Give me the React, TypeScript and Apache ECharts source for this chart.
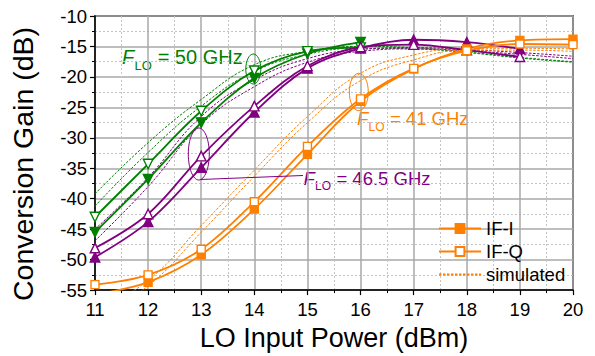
import React, { useEffect, useRef } from "react";
import * as echarts from "echarts";

// LO input power (dBm)
const xs = [11, 12, 13, 14, 15, 16, 17, 18, 19, 20];

// Measured conversion gain (dB)
const f50_IF_I = [-45.5, -36.8, -27.5, -20.2, -16.2, -14.3];
const f50_IF_Q = [-43.0, -34.3, -25.6, -19.0, -15.8, -15.2];
const f465_IF_I = [-49.6, -43.8, -34.9, -25.8, -18.6, -15.3, -13.9, -14.3, -15.4];
const f465_IF_Q = [-48.1, -42.5, -33.0, -24.8, -18.2, -15.1, -14.7, -15.6, -16.7];
const f41_IF_I = [-55.7, -53.7, -49.2, -41.7, -32.7, -24.0, -18.7, -15.4, -14.0, -13.8];
const f41_IF_Q = [-54.1, -52.5, -48.3, -40.5, -31.4, -23.6, -18.6, -15.7, -14.6, -14.7];

// Simulated conversion gain (dB)
const f50_sim_I = [-41.2, -32.4, -24.8, -19.1, -16.3, -15.3, -15.4, -16.0, -16.9, -17.6];
const f50_sim_Q = [-39.2, -30.8, -23.7, -18.0, -15.8, -15.0, -15.2, -15.9, -16.8, -17.5];
const f465_sim_I = [-46.9, -38.0, -27.8, -21.6, -17.6, -15.8, -15.4, -15.7, -16.3, -17.0];
const f465_sim_Q = [-45.0, -36.5, -26.5, -20.5, -17.0, -15.5, -15.2, -15.5, -16.0, -16.6];
const f41_sim_I = [-59.5, -54.3, -45.5, -36.3, -27.5, -20.6, -17.2, -15.6, -15.6, -15.8];
const f41_sim_Q = [-58.5, -53.4, -44.4, -35.3, -26.5, -19.4, -16.4, -15.3, -15.3, -15.4];

const GREEN = "#008000";
const PURPLE = "#800080";
const ORANGE = "#ff8000";
const FONT = "'Liberation Sans', Arial, Helvetica, sans-serif";

const pairs = (vals: number[]) => vals.map((v, i) => [xs[i], v]);

function measured(name: string, vals: number[], color: string, symbol: string, filled: boolean, rotate = 0) {
  return {
    name,
    type: "line",
    data: pairs(vals),
    smooth: 0.35,
    symbol,
    symbolSize: symbol === "rect" ? 8 : 9.5,
    symbolRotate: rotate,
    clip: true,
    z: 4,
    lineStyle: { color, width: 1.8 },
    itemStyle: { color: filled ? color : "#ffffff", borderColor: color, borderWidth: 1.4 },
  };
}

function simulated(name: string, vals: number[], color: string) {
  return {
    name,
    type: "line",
    data: pairs(vals),
    smooth: 0.45,
    symbol: "none",
    clip: true,
    z: 3,
    lineStyle: { color, width: 1, type: [2.5, 1.5] },
    itemStyle: { color },
  };
}

function label(x: number, yMid: number, size: number, subSize: number, rest: string, color: string) {
  const fW = size * 0.62;
  const subW = subSize * 1.36;
  return [
    { type: "text", x, y: yMid, style: { text: "F", fill: color, font: `italic ${size}px ${FONT}`, verticalAlign: "middle", align: "left" } },
    { type: "text", x: x + fW, y: yMid + size * 0.45, style: { text: "LO", fill: color, font: `${subSize}px ${FONT}`, verticalAlign: "middle", align: "left" } },
    { type: "text", x: x + fW + subW, y: yMid, style: { text: rest, fill: color, font: `${size}px ${FONT}`, verticalAlign: "middle", align: "left" } },
  ];
}

export default function App() {
  const ref = useRef<HTMLDivElement>(null);
  useEffect(() => {
    document.body.style.margin = "0";
    if (!ref.current) return;
    const chart = echarts.init(ref.current, null, { renderer: "svg" });
    chart.setOption({
      animation: false,
      textStyle: { fontFamily: FONT },
      grid: { left: 95, right: 22, top: 16, bottom: 65, show: true, borderColor: "#000", borderWidth: 1.5, backgroundColor: "transparent" },
      legend: {
        data: ["IF-I", "IF-Q", { name: "simulated", itemStyle: { opacity: 0 } }],
        orient: "vertical",
        left: 433,
        top: 214,
        itemWidth: 42,
        itemHeight: 11,
        itemGap: 4,
        textStyle: { fontSize: 18.5, color: "#000", fontFamily: FONT },
      },
      xAxis: {
        type: "value",
        min: 11,
        max: 20,
        interval: 1,
        name: "LO Input Power (dBm)",
        nameLocation: "middle",
        nameGap: 32,
        nameTextStyle: { fontSize: 27, color: "#000", fontFamily: FONT },
        axisLine: { show: true, onZero: false, lineStyle: { color: "#000", width: 1.5 } },
        axisTick: { show: true, length: 5, lineStyle: { color: "#000", width: 1.2 } },
        minorTick: { show: true, splitNumber: 2, length: 3, lineStyle: { color: "#000", width: 1 } },
        axisLabel: { fontSize: 18.5, color: "#000", margin: 10, fontFamily: FONT },
        splitLine: { show: true, lineStyle: { color: "#a8a8a8", width: 1.5 } },
        minorSplitLine: { show: true, lineStyle: { color: "#c4c4c4", width: 1, type: [2, 2] } },
      },
      yAxis: {
        type: "value",
        min: -55,
        max: -10,
        interval: 5,
        axisLine: { show: true, onZero: false, lineStyle: { color: "#000", width: 1.5 } },
        axisTick: { show: true, length: 5, lineStyle: { color: "#000", width: 1.2 } },
        minorTick: { show: true, splitNumber: 2, length: 3, lineStyle: { color: "#000", width: 1 } },
        axisLabel: { fontSize: 18.5, color: "#000", margin: 8, fontFamily: FONT },
        splitLine: { show: true, lineStyle: { color: "#a8a8a8", width: 1.5 } },
        minorSplitLine: { show: true, lineStyle: { color: "#c4c4c4", width: 1, type: [2, 2] } },
      },
      series: [
        simulated("sim-50-I", f50_sim_I, GREEN),
        simulated("sim-50-Q", f50_sim_Q, GREEN),
        simulated("sim-46.5-I", f465_sim_I, PURPLE),
        simulated("sim-46.5-Q", f465_sim_Q, PURPLE),
        simulated("simulated", f41_sim_I, ORANGE),
        simulated("sim-41-Q", f41_sim_Q, ORANGE),
        measured("50-I", f50_IF_I, GREEN, "triangle", true, 180),
        measured("50-Q", f50_IF_Q, GREEN, "triangle", false, 180),
        measured("46.5-I", f465_IF_I, PURPLE, "triangle", true),
        measured("46.5-Q", f465_IF_Q, PURPLE, "triangle", false),
        measured("IF-I", f41_IF_I, ORANGE, "rect", true),
        measured("IF-Q", f41_IF_Q, ORANGE, "rect", false),
      ],
      graphic: [
        {
          type: "text",
          x: 23,
          y: 164,
          rotation: Math.PI / 2,
          style: { text: "Conversion Gain (dB)", fill: "#000", font: `28.5px ${FONT}`, align: "center", verticalAlign: "middle" },
        },
        { type: "ellipse", shape: { cx: 253.3, cy: 69, rx: 7.5, ry: 15 }, style: { fill: "none", stroke: GREEN, lineWidth: 1 }, z: 10 },
        { type: "ellipse", shape: { cx: 198.8, cy: 154, rx: 10.5, ry: 26 }, style: { fill: "none", stroke: PURPLE, lineWidth: 1 }, z: 10 },
        { type: "ellipse", shape: { cx: 358.8, cy: 92, rx: 9.5, ry: 18.7 }, style: { fill: "none", stroke: ORANGE, lineWidth: 1 }, z: 10 },
        { type: "line", shape: { x1: 200.5, y1: 179.5, x2: 303, y2: 175.5 }, style: { stroke: PURPLE, lineWidth: 1 }, z: 10 },
        ...label(122, 56.7, 20, 13, " = 50 GHz", GREEN),
        ...label(357, 118.5, 18.5, 12, " = 41 GHz", ORANGE),
        ...label(303.5, 178, 18.5, 12, " = 46.5 GHz", PURPLE),
      ],
    });
    return () => chart.dispose();
  }, []);
  return <div ref={ref} style={{ width: 595, height: 356 }} />;
}
